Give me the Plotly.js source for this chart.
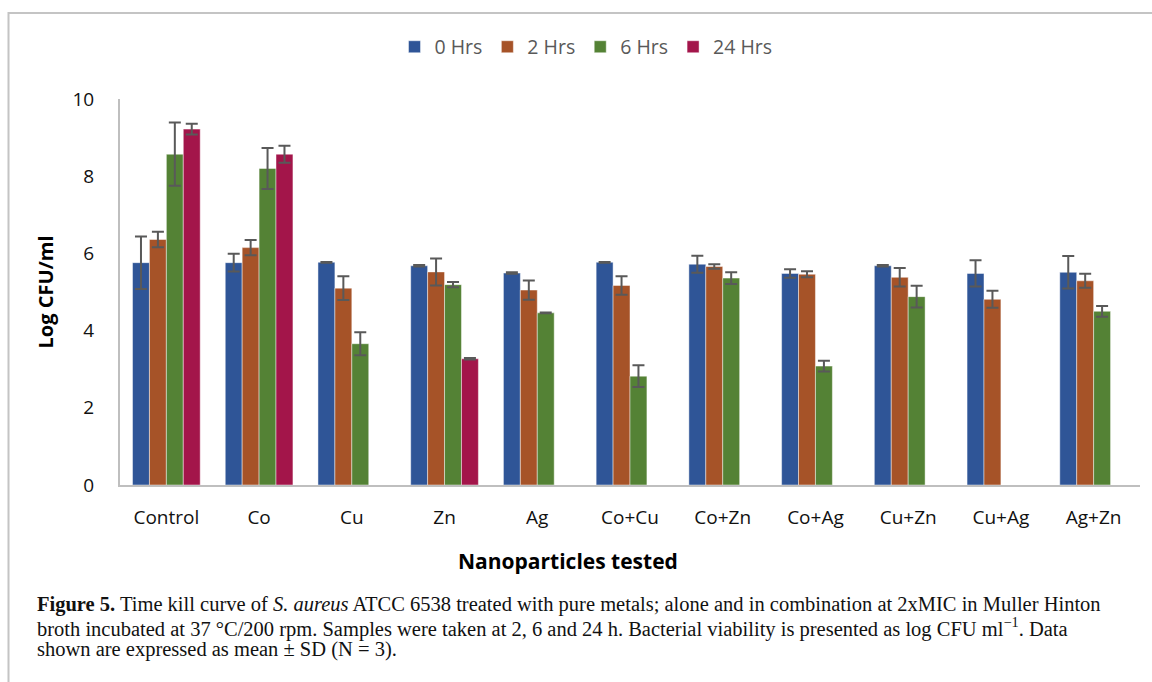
<!DOCTYPE html>
<html>
<head>
<meta charset="utf-8">
<script src="https://cdn.plot.ly/plotly-3.0.1.min.js"></script>
<style>
html,body{margin:0;padding:0;background:#fff;}
#chart{width:1152px;height:682px;}
</style>
</head>
<body>
<div id="chart"></div>
<script>
const categories = ["Control","Co","Cu","Zn","Ag","Co+Cu","Co+Zn","Co+Ag","Cu+Zn","Cu+Ag","Ag+Zn"];
const seriesNames = ["0 Hrs","2 Hrs","6 Hrs","24 Hrs"];
const hrs0  = [5.76, 5.76, 5.77, 5.68, 5.49, 5.77, 5.72, 5.48, 5.68, 5.48, 5.51];
const hrs2  = [6.36, 6.15, 5.10, 5.52, 5.05, 5.17, 5.66, 5.46, 5.38, 4.81, 5.29];
const hrs6  = [8.57, 8.20, 3.66, 5.19, 4.46, 2.82, 5.36, 3.08, 4.88, null, 4.50];
const hrs24 = [9.22, 8.57, null, 3.27, null, null, null, null, null, null, null];
const sd0   = [0.68, 0.23, 0.01, 0.02, 0.02, 0.01, 0.22, 0.11, 0.02, 0.34, 0.42];
const sd2   = [0.20, 0.20, 0.31, 0.35, 0.25, 0.24, 0.06, 0.08, 0.24, 0.22, 0.18];
const sd6   = [0.82, 0.53, 0.30, 0.07, 0.01, 0.28, 0.15, 0.14, 0.28, null, 0.14];
const sd24  = [0.14, 0.22, null, 0.02, null, null, null, null, null, null, null];
const colors = ["#2F5597", "#A65328", "#548235", "#A3154A"];
const xTitle = "Nanoparticles tested";
const yTitle = "Log CFU/ml";
const captionLines = [
  "<b>Figure 5.</b> Time kill curve of <i>S. aureus</i> ATCC 6538 treated with pure metals; alone and in combination at 2xMIC in Muller Hinton",
  "broth incubated at 37 °C/200 rpm. Samples were taken at 2, 6 and 24 h. Bacterial viability is presented as log CFU ml<sup>−1</sup>. Data",
  "shown are expressed as mean ± SD (N = 3)."
];

const values = [hrs0, hrs2, hrs6, hrs24];
const sds = [sd0, sd2, sd6, sd24];

const traces = values.map((v, i) => ({
  type: "bar",
  name: seriesNames[i],
  x: categories,
  y: v,
  marker: {color: colors[i], line: {color: "rgba(255,255,255,0.45)", width: 1}},
  error_y: {type: "data", array: sds[i], visible: true, color: "#595959", thickness: 2, width: 6},
  hoverinfo: "x+y"
}));

// paper coords relative to plot area: l=120, w=1020, t=99, h=386.5
const px = v => (v - 120) / 1020;
const py = v => (485.5 - v) / 386.5;

const captionY = [605, 628, 650];
const annotations = captionLines.map((t, i) => ({
  xref: "paper", yref: "paper", x: px(35), y: py(captionY[i]), xanchor: "left", yanchor: "middle",
  align: "left", showarrow: false,
  font: {family: "Liberation Serif, serif", size: 20.5, color: "#111"},
  text: t
}));
annotations.push({
  xref: "paper", yref: "paper", x: px(568), y: py(562), xanchor: "center", yanchor: "middle",
  showarrow: false, text: "<b>" + xTitle + "</b>",
  font: {size: 21, color: "#000", family: "Open Sans, sans-serif"}
});

const layout = {
  width: 1152, height: 682,
  margin: {l: 120, r: 12, t: 99, b: 196.5},
  paper_bgcolor: "#fff", plot_bgcolor: "#fff",
  barmode: "group",
  bargap: 0.27,
  bargroupgap: 0,
  font: {family: "Open Sans, Lato, sans-serif", color: "#111"},
  showlegend: true,
  legend: {
    orientation: "h", x: px(586), xanchor: "center", y: py(47), yanchor: "middle",
    font: {size: 19.5, color: "#595959", family: "Open Sans, sans-serif"},
    itemwidth: 30, traceorder: "normal"
  },
  xaxis: {
    showline: true, linecolor: "#BFBFBF", linewidth: 2,
    showgrid: false, zeroline: false, ticks: "",
    tickfont: {size: 19, color: "#111"},
    ticklabelstandoff: 14,
    fixedrange: true
  },
  yaxis: {
    range: [0, 10], dtick: 2,
    showline: true, linecolor: "#BFBFBF", linewidth: 2,
    showgrid: false, zeroline: false, ticks: "",
    tickfont: {size: 19, color: "#111"},
    ticklabelstandoff: 20,
    title: {text: yTitle, font: {size: 20, color: "#000", family: "Open Sans, sans-serif", weight: "bold"}, standoff: 13},
    fixedrange: true
  },
  shapes: [
    {type: "path", xref: "paper", yref: "paper",
     path: `M ${px(8.5)} ${py(690)} L ${px(8.5)} ${py(13)} L ${px(1160)} ${py(13)}`,
     line: {color: "#C4C4C4", width: 2}}
  ],
  annotations: annotations
};

Plotly.newPlot("chart", traces, layout, {displayModeBar: false, staticPlot: true});
</script>
</body>
</html>
